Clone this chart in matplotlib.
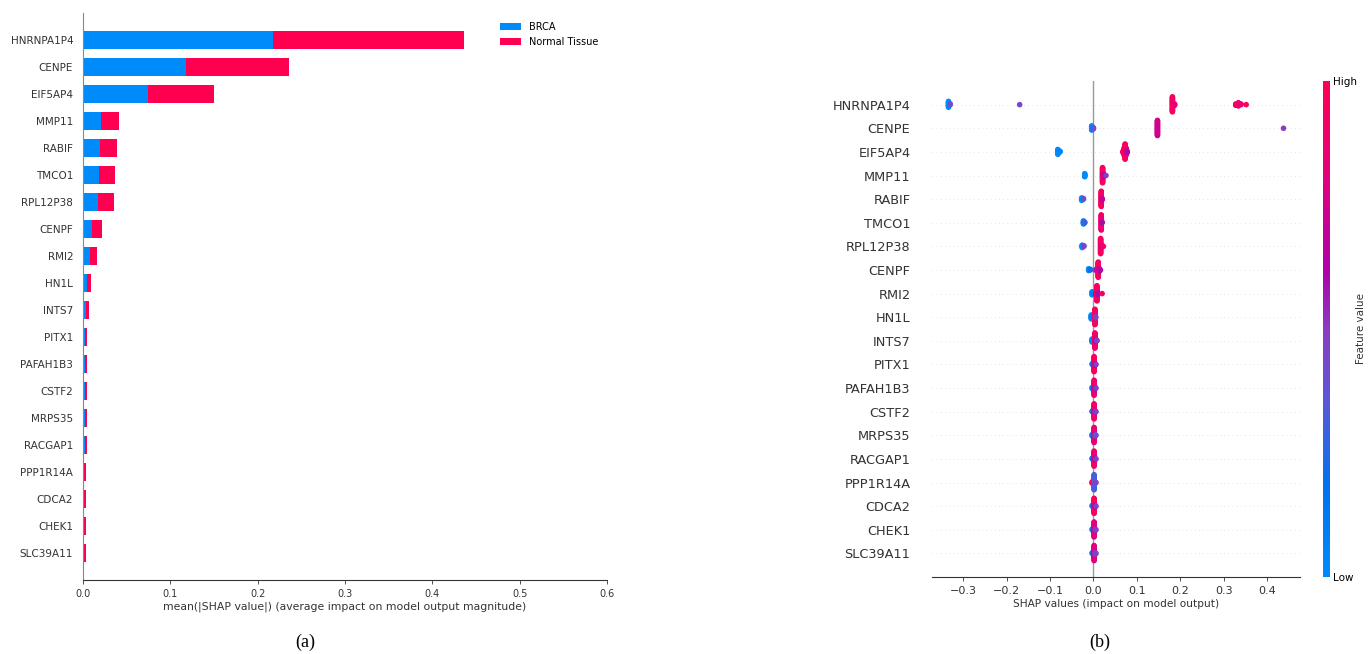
import numpy as np
import matplotlib
matplotlib.use("Agg")
import matplotlib.pyplot as plt
from matplotlib.colors import LinearSegmentedColormap
import matplotlib as mpl

# features, top to bottom
features = ["HNRNPA1P4", "CENPE", "EIF5AP4", "MMP11", "RABIF", "TMCO1", "RPL12P38",
            "CENPF", "RMI2", "HN1L", "INTS7", "PITX1", "PAFAH1B3", "CSTF2", "MRPS35",
            "RACGAP1", "PPP1R14A", "CDCA2", "CHEK1", "SLC39A11"]

# (a) mean |SHAP| per class
brca = [0.2175, 0.1178, 0.0743, 0.0208, 0.0195, 0.0181, 0.0172, 0.0104, 0.0082, 0.0041,
        0.0032, 0.0023, 0.0022, 0.0022, 0.0022, 0.0022, 0.0006, 0.0006, 0.0006, 0.0006]
normal = [0.2185, 0.1182, 0.0757, 0.0204, 0.0194, 0.0186, 0.0181, 0.0113, 0.0077, 0.0050,
          0.0036, 0.0022, 0.0023, 0.0023, 0.0023, 0.0023, 0.0025, 0.0025, 0.0025, 0.0025]
class_names = ["BRCA", "Normal Tissue"]

# (b) beeswarm clusters: (shap value, number of points, feature value 0..1)
hnrnpa1p4_pts = [(-0.334, 10, 0.0), (-0.330, 2, 0.4), (-0.170, 1, 0.45), (0.182, 24, 0.95),
                 (0.187, 3, 0.85), (0.328, 3, 0.9), (0.334, 3, 0.95), (0.340, 2, 0.85), (0.352, 1, 1.0)]
cenpe_pts = [(-0.004, 8, 0.02), (0.000, 3, 0.4), (0.1475, 26, 0.75), (0.438, 1, 0.5)]
eif5ap4_pts = [(-0.082, 9, 0.0), (-0.077, 2, 0.05), (0.068, 3, 0.95), (0.0705, 12, 0.9),
               (0.073, 26, 0.97), (0.0755, 12, 0.9), (0.078, 3, 0.6)]
mmp11_pts = [(-0.020, 6, 0.0), (0.021, 26, 0.95), (0.023, 6, 0.7), (0.029, 1, 0.5)]
rabif_pts = [(-0.027, 5, 0.0), (-0.023, 2, 0.4), (0.018, 26, 0.95), (0.020, 3, 0.7)]
tmco1_pts = [(-0.023, 6, 0.05), (-0.020, 2, 0.3), (0.018, 26, 0.9), (0.020, 2, 0.6)]
rpl12p38_pts = [(-0.026, 5, 0.0), (-0.022, 2, 0.45), (0.0165, 26, 0.95), (0.019, 4, 0.8), (0.023, 1, 0.9)]
cenpf_pts = [(-0.011, 4, 0.0), (-0.007, 2, 0.2), (0.004, 1, 0.5), (0.009, 6, 0.6),
             (0.011, 26, 0.95), (0.014, 5, 0.7), (0.016, 1, 0.6)]
rmi2_pts = [(-0.003, 6, 0.05), (0.006, 5, 0.7), (0.008, 26, 0.95), (0.010, 3, 0.6), (0.020, 1, 0.95)]
hn1l_pts = [(-0.005, 8, 0.0), (-0.003, 3, 0.1), (0.0035, 28, 0.95), (0.005, 3, 0.5)]
ints7_pts = [(-0.003, 6, 0.05), (0.0035, 26, 0.9), (0.005, 4, 0.6), (0.008, 2, 0.5)]
pitx1_pts = [(-0.003, 2, 0.0), (-0.001, 2, 0.3), (0.0015, 24, 0.95), (0.004, 3, 0.6), (0.006, 1, 0.5)]
pafah1b3_pts = [(-0.003, 3, 0.0), (-0.001, 1, 0.3), (0.0015, 24, 0.9), (0.004, 3, 0.6), (0.006, 1, 0.5)]
cstf2_pts = [(-0.003, 2, 0.05), (-0.001, 2, 0.3), (0.0015, 24, 0.92), (0.004, 3, 0.55), (0.006, 1, 0.5)]
mrps35_pts = [(-0.003, 3, 0.05), (-0.001, 1, 0.3), (0.0015, 24, 0.85), (0.004, 3, 0.45), (0.006, 1, 0.4)]
racgap1_pts = [(-0.003, 2, 0.05), (-0.001, 2, 0.3), (0.0015, 24, 0.9), (0.004, 3, 0.6), (0.006, 1, 0.5)]
ppp1r14a_pts = [(-0.003, 3, 1.0), (0.0015, 24, 0.32), (0.004, 3, 0.4), (0.006, 1, 0.45)]
cdca2_pts = [(-0.003, 2, 0.05), (-0.001, 1, 0.3), (0.0015, 24, 0.95), (0.004, 3, 0.6), (0.006, 1, 0.5)]
chek1_pts = [(-0.003, 2, 0.05), (-0.001, 2, 0.3), (0.0015, 24, 0.8), (0.004, 3, 0.55), (0.006, 1, 0.5)]
slc39a11_pts = [(-0.003, 2, 0.05), (-0.001, 2, 0.3), (0.0015, 24, 0.8), (0.004, 3, 0.5), (0.006, 1, 0.45)]

swarm = [hnrnpa1p4_pts, cenpe_pts, eif5ap4_pts, mmp11_pts, rabif_pts, tmco1_pts, rpl12p38_pts,
         cenpf_pts, rmi2_pts, hn1l_pts, ints7_pts, pitx1_pts, pafah1b3_pts, cstf2_pts, mrps35_pts,
         racgap1_pts, ppp1r14a_pts, cdca2_pts, chek1_pts, slc39a11_pts]

blue = "#008bfb"
red = "#ff0051"
red_blue = LinearSegmentedColormap.from_list(
    "red_blue", [(0.0, "#008bfb"), (0.18, "#0072ef"), (0.35, "#5a58d8"), (0.5, "#8a3cbf"),
                 (0.62, "#b000a8"), (0.8, "#e00080"), (1.0, "#ff0052")])

grey = "#333333"
fig = plt.figure(figsize=(13.69, 6.54), dpi=100)
n = len(features)
ypos = np.arange(n)[::-1]

# ---- (a) stacked bar ----
ax1 = fig.add_axes([0.0606, 0.1131, 0.3828, 0.867])
ax1.barh(ypos, brca, height=0.7, color=blue, label=class_names[0])
ax1.barh(ypos, normal, left=brca, height=0.7, color=red, label=class_names[1])
ax1.set_ylim(-1, n)
ax1.set_xlim(0, 0.6)
ax1.set_yticks(ypos)
ax1.set_yticklabels(features, fontsize=7.5, color=grey)
ax1.yaxis.set_ticks_position("none")
ax1.xaxis.set_ticks_position("bottom")
ax1.tick_params("x", labelsize=7, labelcolor=grey, length=3, width=0.6, color=grey)
ax1.spines["right"].set_visible(False)
ax1.spines["top"].set_visible(False)
ax1.spines["left"].set_color("#888888")
ax1.spines["bottom"].set_color(grey)
ax1.set_xlabel("mean(|SHAP value|) (average impact on model output magnitude)",
               fontsize=7.8, color=grey, labelpad=2)
ax1.legend(loc="upper right", frameon=False, fontsize=7, handlelength=2.2,
           bbox_to_anchor=(1.0, 1.0))

# ---- (b) beeswarm ----
ax2 = fig.add_axes([0.6808, 0.1177, 0.2688, 0.7584])
ax2.axvline(0, color="#999999", lw=1, zorder=-1)
row_height = 0.4
for i, clusters in enumerate(swarm):
    pos = ypos[i]
    ax2.axhline(pos, color="#cccccc", lw=0.5, dashes=(1, 5), zorder=-1)
    xs = np.concatenate([np.full(c, v) for v, c, f in clusters])
    fv = np.concatenate([np.full(c, f) for v, c, f in clusters])
    nbins = 100
    quant = np.round(nbins * (xs - xs.min()) / (xs.max() - xs.min() + 1e-8))
    order = np.argsort(quant, kind="stable")
    ys = np.zeros(len(xs))
    layer = 0
    last_bin = -1
    for ind in order:
        if quant[ind] != last_bin:
            layer = 0
        ys[ind] = np.ceil(layer / 2) * ((layer % 2) * 2 - 1)
        layer += 1
        last_bin = quant[ind]
    ys *= 0.9 * (row_height / np.max(ys + 1))
    ax2.scatter(xs, pos + ys, c=fv, cmap=red_blue, vmin=0, vmax=1, s=16, linewidth=0, zorder=3)

ax2.set_ylim(-1, n)
ax2.set_xlim(-0.372, 0.476)
ax2.set_yticks(ypos)
ax2.set_yticklabels(features, fontsize=9.3, color=grey)
ax2.yaxis.set_ticks_position("none")
ax2.tick_params("y", pad=12)
ax2.xaxis.set_ticks_position("bottom")
ax2.set_xticks([-0.3, -0.2, -0.1, 0.0, 0.1, 0.2, 0.3, 0.4])
ax2.tick_params("x", labelsize=8, labelcolor=grey, length=3, width=0.6, color=grey)
for s in ["right", "top", "left"]:
    ax2.spines[s].set_visible(False)
ax2.spines["bottom"].set_color(grey)
ax2.set_xlabel("SHAP values (impact on model output)", fontsize=7.6, color=grey, labelpad=2)

cax = fig.add_axes([0.9664, 0.1177, 0.0051, 0.7584])
cb = mpl.colorbar.ColorbarBase(cax, cmap=red_blue, norm=mpl.colors.Normalize(0, 1))
cb.set_ticks([0, 1])
cb.set_ticklabels(["Low", "High"])
cb.outline.set_visible(False)
cb.ax.tick_params(labelsize=7.5, length=0, pad=2)
fig.text(1361 / 1369, 0.497, "Feature value", rotation=90, ha="center", va="center",
         fontsize=7.5, color=grey)

fig.text(0.2228, 0.004, "(a)", ha="center", va="bottom", fontsize=13, family="Liberation Serif")
fig.text(0.8035, 0.004, "(b)", ha="center", va="bottom", fontsize=13, family="Liberation Serif")

fig.savefig("out.png", dpi=100)
